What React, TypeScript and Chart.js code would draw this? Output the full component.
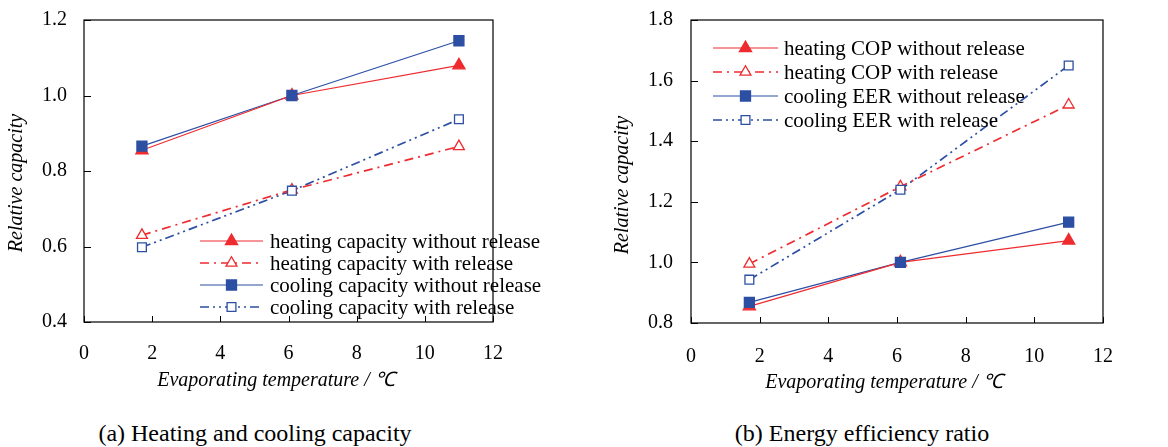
import React, { useEffect, useRef } from 'react';
import { Chart, registerables } from 'chart.js';

Chart.register(...registerables);

// ---------- data ----------
const temps = [1.7, 6.1, 11];
const xTickValues = [0, 2, 4, 6, 8, 10, 12];

// (a) capacity
const capYTicks = [0.4, 0.6, 0.8, 1.0, 1.2];
const heatingCapWithout = [0.855, 1.0, 1.08];
const heatingCapWith = [0.63, 0.75, 0.865];
const coolingCapWithout = [0.866, 1.0, 1.145];
const coolingCapWith = [0.598, 0.748, 0.937];
const capLabels = [
  'heating capacity without release',
  'heating capacity with release',
  'cooling capacity without release',
  'cooling capacity with release',
];

// (b) efficiency
const effYTicks = [0.8, 1.0, 1.2, 1.4, 1.6, 1.8];
const heatingCopWithout = [0.855, 1.0, 1.072];
const heatingCopWith = [0.995, 1.25, 1.52];
const coolingEerWithout = [0.868, 1.0, 1.133];
const coolingEerWith = [0.943, 1.24, 1.65];
const effLabels = [
  'heating COP without release',
  'heating COP with release',
  'cooling EER without release',
  'cooling EER with release',
];

const yTitle = 'Relative capacity';
const xTitle = 'Evaporating temperature / ℃';
const captionA = '(a) Heating and cooling capacity';
const captionB = '(b) Energy efficiency ratio';

// ---------- styles ----------
const RED = '#ee2b2f';
const BLUE = '#2c4ea3';
const FONT = "'Liberation Serif', 'Times New Roman', serif";

type SeriesStyle = {
  color: string;
  dash: number[];
  marker: 'triangle' | 'rect';
  filled: boolean;
  width: number;
};

const styles: SeriesStyle[] = [
  { color: RED, dash: [], marker: 'triangle', filled: true, width: 1.2 },
  { color: RED, dash: [9, 5, 2, 5], marker: 'triangle', filled: false, width: 1.7 },
  { color: BLUE, dash: [], marker: 'rect', filled: true, width: 1.2 },
  { color: BLUE, dash: [9, 4, 2, 4, 2, 4], marker: 'rect', filled: false, width: 1.7 },
];

function drawMarker(ctx: CanvasRenderingContext2D, st: SeriesStyle, x: number, y: number) {
  ctx.save();
  ctx.setLineDash([]);
  ctx.lineWidth = 1.3;
  ctx.strokeStyle = st.color;
  ctx.fillStyle = st.filled ? st.color : '#ffffff';
  ctx.beginPath();
  if (st.marker === 'triangle') {
    const r = st.filled ? 7 : 6.3;
    ctx.moveTo(x, y - r);
    ctx.lineTo(x + r * 0.866, y + r * 0.5);
    ctx.lineTo(x - r * 0.866, y + r * 0.5);
    ctx.closePath();
  } else {
    const h = st.filled ? 5 : 4.4;
    ctx.rect(x - h, y - h, 2 * h, 2 * h);
  }
  ctx.fill();
  ctx.stroke();
  ctx.restore();
}

type DecorOpts = {
  labels: string[];
  legendX0: number;
  legendX1: number;
  legendTextX: number;
  legendY0: number;
  legendDy: number;
  yTitleX: number;
  yTitleY: number;
  xTitleX: number;
  xTitleY: number;
};

const decorPlugin = {
  id: 'decor',
  afterDatasetsDraw(chart: any, _args: any, opts: DecorOpts) {
    const ctx: CanvasRenderingContext2D = chart.ctx;
    const { left, right, top, bottom } = chart.chartArea;
    ctx.save();
    // box
    ctx.strokeStyle = '#000';
    ctx.lineWidth = 1.2;
    ctx.setLineDash([]);
    ctx.strokeRect(left, top, right - left, bottom - top);
    // inward ticks
    const xs = chart.scales.x;
    const ys = chart.scales.y;
    ctx.lineWidth = 1;
    ctx.beginPath();
    xs.ticks.forEach((t: any) => {
      const px = Math.round(xs.getPixelForValue(t.value)) + 0.5;
      ctx.moveTo(px, bottom);
      ctx.lineTo(px, bottom - 6);
    });
    ys.ticks.forEach((t: any) => {
      const py = Math.round(ys.getPixelForValue(t.value)) + 0.5;
      ctx.moveTo(left, py);
      ctx.lineTo(left + 7, py);
    });
    ctx.stroke();

    // markers on data
    chart.data.datasets.forEach((_ds: any, i: number) => {
      const meta = chart.getDatasetMeta(i);
      meta.data.forEach((pt: any) => drawMarker(ctx, styles[i], pt.x, pt.y));
    });

    // legend
    ctx.font = `21px ${FONT}`;
    ctx.textBaseline = 'middle';
    ctx.textAlign = 'left';
    opts.labels.forEach((lab, i) => {
      const st = styles[i];
      const y = opts.legendY0 + i * opts.legendDy;
      ctx.save();
      ctx.strokeStyle = st.color;
      ctx.lineWidth = st.width;
      ctx.setLineDash(st.dash);
      ctx.beginPath();
      ctx.moveTo(opts.legendX0, y);
      ctx.lineTo(opts.legendX1, y);
      ctx.stroke();
      ctx.restore();
      drawMarker(ctx, st, (opts.legendX0 + opts.legendX1) / 2, y);
      ctx.fillStyle = '#000';
      ctx.fillText(lab, opts.legendTextX, y + 1);
    });

    // axis titles
    ctx.fillStyle = '#000';
    ctx.font = `italic 20px ${FONT}`;
    ctx.textAlign = 'center';
    ctx.textBaseline = 'middle';
    ctx.fillText(xTitle, opts.xTitleX, opts.xTitleY);
    ctx.save();
    ctx.translate(opts.yTitleX, opts.yTitleY);
    ctx.rotate(-Math.PI / 2);
    ctx.fillText(yTitle, 0, 0);
    ctx.restore();
    ctx.restore();
  },
};

type PanelProps = {
  series: number[][];
  yTicks: number[];
  decor: DecorOpts;
  plotLeft: number;
  plotRight: number;
  plotTop: number;
  plotBottom: number;
  yLabelPad: number;
  xLabelPad: number;
};

const W = 584;
const H = 400;

function Panel(p: PanelProps) {
  const ref = useRef<HTMLCanvasElement | null>(null);
  useEffect(() => {
    if (!ref.current) return;
    const datasets = p.series.map((arr, i) => ({
      label: p.decor.labels[i],
      data: temps.map((x, j) => ({ x, y: arr[j] })),
      borderColor: styles[i].color,
      borderWidth: styles[i].width,
      borderDash: styles[i].dash,
      pointRadius: 0,
      fill: false,
      tension: 0,
    }));
    const chart = new Chart(ref.current, {
      type: 'line',
      data: { datasets },
      plugins: [decorPlugin],
      options: {
        animation: false,
        responsive: false,
        maintainAspectRatio: false,
        devicePixelRatio: 1,
        layout: { padding: { left: 0, right: W - p.plotRight, top: p.plotTop, bottom: 0 } },
        plugins: {
          legend: { display: false },
          tooltip: { enabled: false },
          decor: p.decor,
        } as any,
        scales: {
          x: {
            type: 'linear',
            min: xTickValues[0],
            max: xTickValues[xTickValues.length - 1],
            afterBuildTicks: (axis: any) => {
              axis.ticks = xTickValues.map((v) => ({ value: v }));
            },
            afterFit: (axis: any) => {
              axis.height = H - p.plotBottom;
              axis.paddingLeft = 0;
              axis.paddingRight = 0;
            },
            grid: { display: false, drawTicks: false },
            border: { display: false },
            ticks: {
              padding: p.xLabelPad,
              color: '#000',
              font: { family: FONT, size: 20 },
              maxRotation: 0,
              callback: (v: any) => String(v),
            },
          },
          y: {
            type: 'linear',
            min: p.yTicks[0],
            max: p.yTicks[p.yTicks.length - 1],
            afterBuildTicks: (axis: any) => {
              axis.ticks = p.yTicks.map((v) => ({ value: v }));
            },
            afterFit: (axis: any) => {
              axis.width = p.plotLeft;
              axis.paddingTop = 0;
              axis.paddingBottom = 0;
            },
            grid: { display: false, drawTicks: false },
            border: { display: false },
            ticks: {
              padding: p.yLabelPad,
              color: '#000',
              font: { family: FONT, size: 20 },
              callback: (v: any) => Number(v).toFixed(1),
            },
          },
        },
      } as any,
    });
    return () => chart.destroy();
  }, []);
  return <canvas ref={ref} width={W} height={H} style={{ width: W, height: H, display: 'block' }} />;
}

export default function App() {
  return (
    <div style={{ position: 'absolute', left: 0, top: 0, width: 1168, height: 447, background: '#fff', overflow: 'hidden' }}>
      <div style={{ position: 'absolute', left: 0, top: 0 }}>
        <Panel
          series={[heatingCapWithout, heatingCapWith, coolingCapWithout, coolingCapWith]}
          yTicks={capYTicks}
          plotLeft={84}
          plotRight={493}
          plotTop={20}
          plotBottom={322}
          yLabelPad={17}
          xLabelPad={20}
          decor={{
            labels: capLabels,
            legendX0: 200,
            legendX1: 263,
            legendTextX: 270,
            legendY0: 241,
            legendDy: 22,
            yTitleX: 17,
            yTitleY: 183,
            xTitleX: 276,
            xTitleY: 381,
          }}
        />
      </div>
      <div style={{ position: 'absolute', left: 584, top: 0 }}>
        <Panel
          series={[heatingCopWithout, heatingCopWith, coolingEerWithout, coolingEerWith]}
          yTicks={effYTicks}
          plotLeft={107}
          plotRight={519}
          plotTop={20}
          plotBottom={323}
          yLabelPad={18}
          xLabelPad={22}
          decor={{
            labels: effLabels,
            legendX0: 129,
            legendX1: 194,
            legendTextX: 200,
            legendY0: 48,
            legendDy: 24,
            yTitleX: 39,
            yTitleY: 185,
            xTitleX: 300,
            xTitleY: 383,
          }}
        />
      </div>
      <div style={{ position: 'absolute', left: 0, top: 418, width: 510, textAlign: 'center', font: `24px ${FONT}`, lineHeight: '30px', color: '#000' }}>
        {captionA}
      </div>
      <div style={{ position: 'absolute', left: 612, top: 418, width: 500, textAlign: 'center', font: `24px ${FONT}`, lineHeight: '30px', color: '#000' }}>
        {captionB}
      </div>
    </div>
  );
}
